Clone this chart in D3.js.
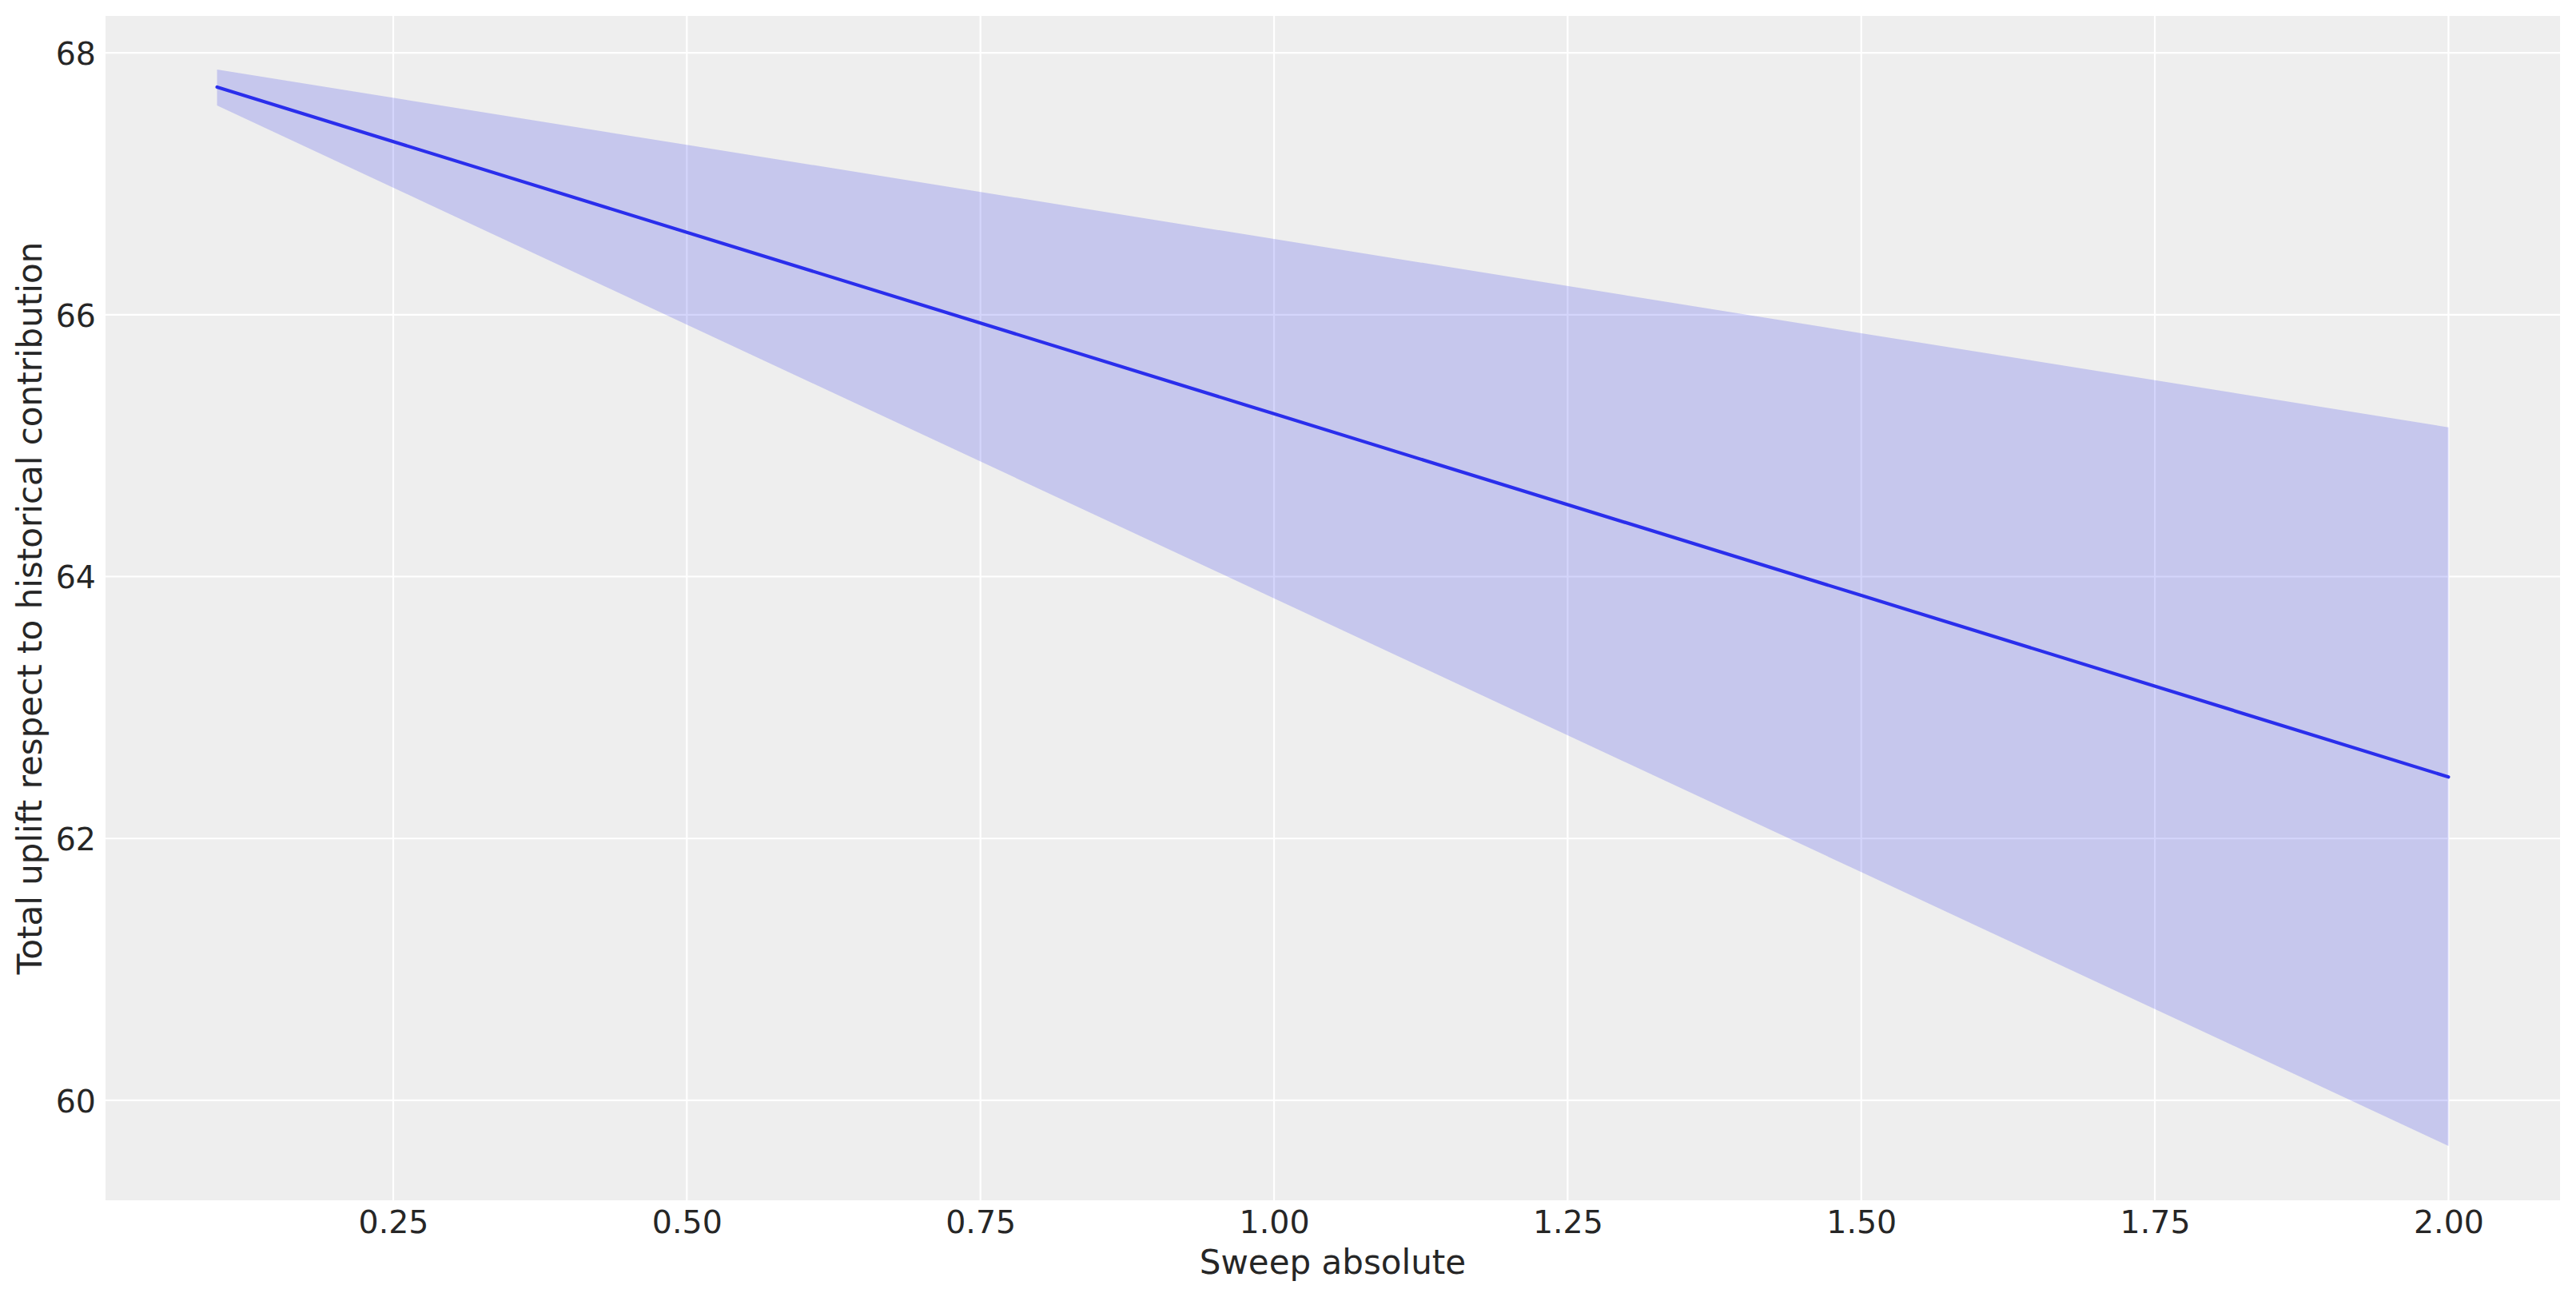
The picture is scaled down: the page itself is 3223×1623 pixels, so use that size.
<!DOCTYPE html>
<html>
<head>
<meta charset="utf-8">
<script src="https://cdn.jsdelivr.net/npm/d3@7"></script>
<style>
  html, body { margin: 0; padding: 0; background: #ffffff; }
  svg { display: block; }
  text { font-family: "DejaVu Sans", sans-serif; fill: #262626; }
</style>
</head>
<body>
<svg id="chart" width="3223" height="1623"></svg>
<script>
// ---- data ----
const sweep = [0.1, 0.5, 1.0, 1.5, 2.0];
const meanUplift = [67.738, 66.629, 65.243, 63.856, 62.470];
const upperUplift = [67.872, 67.297, 66.578, 65.859, 65.140];
const lowerUplift = [67.597, 65.924, 63.834, 61.743, 59.652];
const xTicks = [0.25, 0.5, 0.75, 1.0, 1.25, 1.5, 1.75, 2.0];
const yTicks = [60, 62, 64, 66, 68];
const xLabel = "Sweep absolute";
const yLabel = "Total uplift respect to historical contribution";

const rows = sweep.map((s, i) => ({ x: s, m: meanUplift[i], lo: lowerUplift[i], hi: upperUplift[i] }));

const W = 3223, H = 1623;
const L = 132, R = 3203, T = 20, B = 1502;
const svg = d3.select("#chart");

const x = d3.scaleLinear().domain([0.005, 2.095]).range([L, R]);
const y = d3.scaleLinear().domain([59.237, 68.281]).range([B, T]);

// background
svg.append("rect").attr("x", L).attr("y", T).attr("width", R - L).attr("height", B - T).attr("fill", "#eeeeee");

// gridlines
const grid = svg.append("g");
grid.selectAll(".gx").data(xTicks).join("line")
  .attr("x1", d => x(d)).attr("x2", d => x(d)).attr("y1", T).attr("y2", B)
  .attr("stroke", "#ffffff").attr("stroke-width", 2.2);
grid.selectAll(".gy").data(yTicks).join("line")
  .attr("x1", L).attr("x2", R).attr("y1", d => y(d)).attr("y2", d => y(d))
  .attr("stroke", "#ffffff").attr("stroke-width", 2.2);

// band
const area = d3.area().x(d => x(d.x)).y0(d => y(d.lo)).y1(d => y(d.hi));
svg.append("path").datum(rows).attr("d", area)
  .attr("fill", "#2a2eec").attr("fill-opacity", 0.2);

// mean line
const line = d3.line().x(d => x(d.x)).y(d => y(d.m));
svg.append("path").datum(rows).attr("d", line)
  .attr("fill", "none").attr("stroke", "#2a2eec").attr("stroke-width", 4.2).attr("stroke-linecap", "round");

// x axis
const xAxis = d3.axisBottom(x).tickValues(xTicks).tickFormat(d3.format(".2f")).tickSize(0).tickPadding(0);
const gx = svg.append("g").attr("transform", `translate(0,${B})`).call(xAxis);
gx.select(".domain").remove();
gx.selectAll("text").attr("font-size", 39.5).attr("font-family", "DejaVu Sans").attr("fill", "#262626")
  .attr("y", 41).attr("dy", 0);

// y axis
const yAxis = d3.axisLeft(y).tickValues(yTicks).tickFormat(d3.format("d")).tickSize(0).tickPadding(0);
const gy = svg.append("g").attr("transform", `translate(${L},0)`).call(yAxis);
gy.select(".domain").remove();
gy.selectAll("text").attr("font-size", 39.5).attr("font-family", "DejaVu Sans").attr("fill", "#262626")
  .attr("x", -12).attr("dy", "0.36em");

// axis labels
svg.append("text").attr("x", (L + R) / 2).attr("y", 1594).attr("text-anchor", "middle")
  .attr("font-size", 42).text(xLabel);
svg.append("text").attr("transform", `translate(52,${(T + B) / 2}) rotate(-90)`)
  .attr("text-anchor", "middle").attr("font-size", 42).text(yLabel);
</script>
</body>
</html>
